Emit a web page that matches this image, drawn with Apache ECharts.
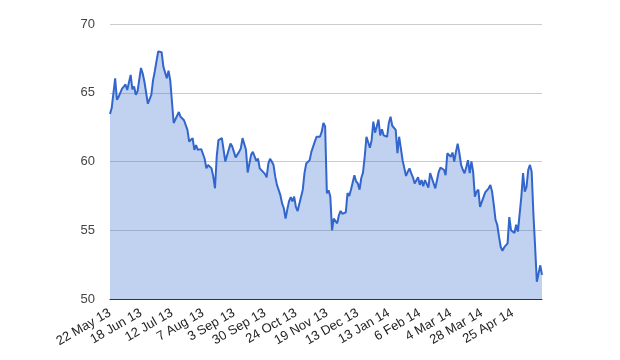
<!DOCTYPE html>
<html>
<head>
<meta charset="utf-8">
<script src="https://cdn.jsdelivr.net/npm/echarts@6/dist/echarts.min.js"></script>
<style>html,body{margin:0;padding:0;background:#fff}#c{width:620px;height:360px}</style>
</head>
<body>
<div id="c"></div>
<script>
// Tick labels every 18 trading days from 22 May 13
var tickLabels = ['22 May 13','18 Jun 13','12 Jul 13','7 Aug 13','3 Sep 13','30 Sep 13','24 Oct 13','19 Nov 13','13 Dec 13','13 Jan 14','6 Feb 14','4 Mar 14','28 Mar 14','25 Apr 14'];
var tickStep = 18;
var lastDay = 251;
// trading-day offsets from 22 May 13
var days = [0,1,3,4,5,7,8,9,10,12,13,14,15,16,18,19,20,21,22,24,25,26,28,30,31,33,34,35,37,38,
40,41,43,44,45,46,48,49,50,51,53,55,56,57,59,60,61,62,63,65,66,67,68,70,71,72,73,75,76,77,79,80,82,
83,84,85,86,87,88,90,91,92,93,94,95,96,97,98,99,100,101,102,103,104,105,106,107,108,109,110,112,113,114,116,117,118,119,120,121,122,123,124,125,
126,127,128,129,130,132,133,134,135,137,138,139,140,141,142,143,144,145,146,147,148,149,150,151,152,153,154,155,156,157,158,159,161,162,163,164,165,166,167,168,
169,170,171,172,173,174,175,176,177,179,180,181,182,183,185,186,187,188,189,190,191,192,193,194,195,196,197,198,199,200,201,202,203,204,205,206,207,208,209,210,
211,212,213,214,215,216,218,219,220,221,222,223,224,225,226,227,228,229,230,231,232,233,234,235,236,237,238,239,240,241,242,243,244,245,246,247,248,249,250,251];
var values = [63.45,63.9,66.05,64.5,64.7,65.3,65.45,65.6,65.2,66.3,65.25,65.45,64.85,65.1,66.8,66.4,65.8,65.9,64.2,64.85,65.9,66.55,68.0,67.95,66.9,66.05,66.6,65.9,62.8,62.7,
63.6,63.25,63.0,62.9,62.3,61.45,61.7,60.85,61.2,60.85,60.9,60.2,59.5,59.75,59.5,58.9,58.05,60.35,61.55,61.7,61.75,60.0,59.9,61.3,61.1,61.1,60.3,60.7,60.95,61.7,60.85,59.2,60.5,
60.7,60.7,60.05,60.2,59.5,59.6,59.1,58.85,59.85,60.2,60.0,59.75,58.9,58.3,58.35,57.55,56.95,56.6,55.85,56.5,57.1,57.4,57.1,57.45,56.7,56.4,56.5,57.95,59.15,59.85,60.1,60.7,60.6,61.45,61.8,61.85,61.8,62.15,62.8,62.55,
57.7,57.9,57.45,55.0,55.85,55.5,56.1,56.4,56.2,56.3,57.7,57.5,57.95,58.05,59.0,58.55,58.4,57.95,58.8,59.2,60.35,61.8,61.9,61.0,61.55,62.9,62.1,62.55,63.05,61.9,62.35,61.9,61.8,62.8,63.25,62.6,62.65,62.3,60.6,61.8,
60.95,60.1,60.0,58.95,59.25,59.5,59.15,58.85,58.4,58.85,58.3,58.65,58.2,58.65,58.1,59.15,58.8,58.9,58.05,58.65,59.25,59.55,59.5,59.4,59.0,60.6,60.7,60.35,60.65,60.0,60.7,61.3,60.6,59.75,59.4,59.15,59.6,60.1,59.15,60.0,
59.25,57.45,57.8,57.95,56.7,56.6,57.75,57.7,58.05,58.3,57.8,56.85,55.75,55.4,54.55,53.8,53.5,53.75,53.8,54.05,55.95,55.0,55.0,54.8,55.4,54.9,54.95,57.45,59.15,57.8,58.15,59.4,59.75,59.25,56.2,53.8,51.25,51.85,52.45,51.75];

var seriesData = days.map(function (d, i) { return [d, values[i]]; });

var chart = echarts.init(document.getElementById('c'), null, {renderer: 'canvas'});
chart.setOption({
  animation: false,
  backgroundColor: '#ffffff',
  grid: {left: 110, right: 78, top: 24, bottom: 61, containLabel: false},
  xAxis: {
    type: 'value',
    min: 0,
    max: lastDay,
    interval: tickStep,
    axisLine: {show: true, onZero: false, lineStyle: {color: '#333333', width: 1}},
    axisTick: {show: false},
    splitLine: {show: false},
    axisLabel: {
      rotate: 30,
      margin: 13,
      color: '#222222',
      fontSize: 13,
      fontFamily: 'Arial, "Liberation Sans", sans-serif',
      showMaxLabel: false,
      formatter: function (v) {
        var k = v / tickStep;
        if (Math.abs(k - Math.round(k)) < 1e-6 && tickLabels[Math.round(k)]) return tickLabels[Math.round(k)];
        return '';
      }
    }
  },
  yAxis: {
    type: 'value',
    min: 50,
    max: 70,
    interval: 5,
    axisLine: {show: false},
    axisTick: {show: false},
    splitLine: {show: true, lineStyle: {color: '#cccccc', width: 1}},
    axisLabel: {
      margin: 15,
      color: '#444444',
      fontSize: 13,
      fontFamily: 'Arial, "Liberation Sans", sans-serif'
    }
  },
  series: [{
    type: 'line',
    data: seriesData,
    symbol: 'none',
    smooth: false,
    lineStyle: {color: '#3366cc', width: 2},
    itemStyle: {color: '#3366cc'},
    areaStyle: {color: '#3366cc', opacity: 0.3, origin: 'start'}
  }]
});
</script>
</body>
</html>
